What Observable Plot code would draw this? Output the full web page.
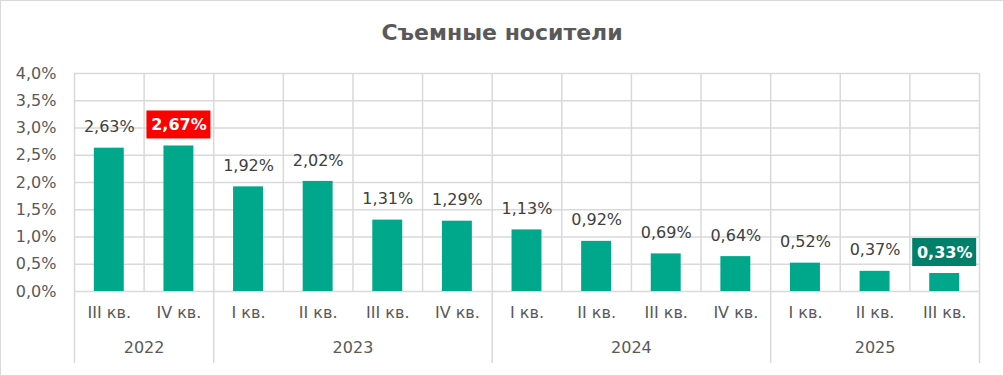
<!DOCTYPE html>
<html>
<head>
<meta charset="utf-8">
<script src="https://cdn.jsdelivr.net/npm/d3@7"></script>
<script src="https://cdn.jsdelivr.net/npm/@observablehq/plot@0.6"></script>
<style>
  html, body { margin: 0; padding: 0; background: #fff; }
  #wrap { box-sizing: border-box; width: 1004px; height: 376px; border: 1px solid #d9d9d9; background: #fff; overflow: hidden; }
  #title { box-sizing: border-box; height: 48px; padding-top: 20px; line-height: 24px; text-align: center;
           font-family: "DejaVu Sans", sans-serif; font-weight: bold; font-size: 22px; color: #595959; }
</style>
</head>
<body>
<div id="wrap">
  <div id="title">Съемные носители</div>
  <div id="chart"></div>
</div>
<script>
const quarters = ["III кв.", "IV кв.", "I кв.", "II кв.", "III кв.", "IV кв.", "I кв.", "II кв.", "III кв.", "IV кв.", "I кв.", "II кв.", "III кв."];
const years = ["2022", "2022", "2023", "2023", "2023", "2023", "2024", "2024", "2024", "2024", "2025", "2025", "2025"];
const values = [2.63, 2.67, 1.92, 2.02, 1.31, 1.29, 1.13, 0.92, 0.69, 0.64, 0.52, 0.37, 0.33];
const yTicks = [0, 0.5, 1, 1.5, 2, 2.5, 3, 3.5, 4];
const highlightIdx = [1, 12];

const highlightFill = {1: "#FF0000", 12: "#00806A"};
const fmt = v => v.toFixed(2).replace(".", ",") + "%";
const fmtTick = v => v.toFixed(1).replace(".", ",") + "%";

const data = values.map((v, i) => ({i, value: v, quarter: quarters[i], year: years[i], hl: highlightIdx.includes(i)}));
const normal = data.filter(d => !d.hl);
const hl = data.filter(d => d.hl);

// year groups
const yearNames = [...new Set(years)];
const yearGroups = yearNames.map(y => {
  const idx = data.filter(d => d.year === y).map(d => d.i);
  return {year: y, center: d3.mean(idx), start: d3.min(idx) - 0.5, end: d3.max(idx) + 0.5};
});
const yearBounds = [...new Set(yearGroups.flatMap(g => [g.start, g.end]))];
const bandBounds = d3.range(values.length + 1).map(k => k - 0.5);

const chart = Plot.plot({
  width: 1002,
  height: 326,
  marginTop: 24,
  marginBottom: 84,
  marginLeft: 73,
  marginRight: 24,
  style: {fontFamily: "DejaVu Sans, sans-serif", fontSize: "16px", color: "#595959", background: "transparent", overflow: "visible"},
  x: {type: "linear", domain: [-0.5, values.length - 0.5], axis: null},
  y: {domain: [0, 4], axis: null},
  marks: [
    Plot.ruleY(yTicks, {stroke: "#d9d9d9", strokeWidth: 1.5}),
    Plot.ruleX(bandBounds, {stroke: "#d9d9d9", strokeWidth: 1.5}),
    Plot.ruleX(yearBounds, {y1: 0, y2: 0, insetTop: 0, insetBottom: -72, stroke: "#d9d9d9", strokeWidth: 1.5}),
    Plot.axisY({ticks: yTicks, tickSize: 0, tickPadding: 18, tickFormat: fmtTick, fontSize: 16, fill: "#595959", label: null}),
    Plot.rectY(data, {x1: d => d.i - 0.215, x2: d => d.i + 0.215, y1: 0, y2: "value", fill: "#00A88B"}),
    Plot.text(normal, {x: "i", y: "value", text: d => fmt(d.value), dy: -21, fill: "#404040", fontSize: 16}),
    Plot.rect(hl, {x1: "i", x2: "i", y1: "value", y2: "value", fill: d => highlightFill[d.i],
                   insetLeft: -32, insetRight: -32, insetTop: -35, insetBottom: 7}),
    Plot.text(hl, {x: "i", y: "value", text: d => fmt(d.value), dy: -21, fill: "#ffffff", fontWeight: "bold", fontSize: 16}),
    Plot.text(data, {x: "i", text: "quarter", frameAnchor: "bottom", dy: 26, fill: "#595959", fontSize: 16}),
    Plot.text(yearGroups, {x: "center", text: "year", frameAnchor: "bottom", dy: 61, fill: "#595959", fontSize: 16})
  ]
});
document.getElementById("chart").appendChild(chart);
</script>
</body>
</html>
